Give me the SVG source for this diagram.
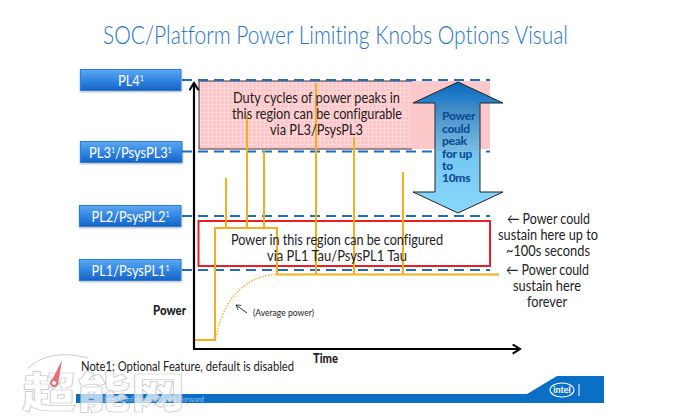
<svg xmlns="http://www.w3.org/2000/svg" width="700" height="420" viewBox="0 0 700 420">
<defs>
<linearGradient id="btn" x1="0" y1="0" x2="0" y2="1"><stop offset="0" stop-color="#5ca8f0"/><stop offset="0.55" stop-color="#2f82e2"/><stop offset="1" stop-color="#1563c4"/></linearGradient>
<linearGradient id="arr" x1="0" y1="0" x2="0" y2="1"><stop offset="0" stop-color="#0a68bb"/><stop offset="0.5" stop-color="#72c4f0"/><stop offset="1" stop-color="#8ad8fb"/></linearGradient>
<pattern id="grid" width="4" height="4" patternUnits="userSpaceOnUse"><rect width="4" height="4" fill="#fdc6c8"/><path d="M0 .5H4M.5 0V4" stroke="#fed6d7" stroke-width="1"/></pattern>
<filter id="sh" x="-5%" y="-10%" width="110%" height="130%"><feDropShadow dx="0" dy="1" stdDeviation="0.8" flood-color="#000" flood-opacity="0.3"/></filter>
<marker id="ah" viewBox="0 0 12 12" refX="10" refY="6" markerWidth="5" markerHeight="5" orient="auto" markerUnits="strokeWidth"><path d="M2 1 L10 6 L2 11" fill="none" stroke="#000" stroke-width="2.2"/></marker>
<marker id="thin" viewBox="0 0 12 12" refX="10" refY="6" markerWidth="7" markerHeight="7" orient="auto" markerUnits="strokeWidth"><path d="M2 1 L10 6 L2 11" fill="none" stroke="#333" stroke-width="1.4"/></marker>
</defs>
<style>
text{font-family:Lato,"Open Sans","Liberation Sans",sans-serif;fill:#222;font-variant-ligatures:none}
.btn{fill:url(#btn);stroke:#2a7fd8;stroke-width:1;filter:url(#sh)}
.bl{fill:#fff;font-size:14.500px}
.dash{stroke:#1b6fc2;stroke-width:2.200;stroke-dasharray:10 6;fill:none}
.or{stroke:#f5ae1e;stroke-width:2;fill:none}
.body{font-size:14.500px}
.side{font-size:14.500px}
.b{font-weight:900;font-size:12.500px}
.arrt{font-size:12px;font-weight:900;fill:#0e4f94;letter-spacing:-.3px}
.wm{font-family:"Noto Sans CJK SC",sans-serif;font-size:42px;font-weight:900;fill:#fff;fill-opacity:.7;stroke:#c4c4c4;stroke-width:.6}
</style>
<rect width="700" height="420" fill="#fff"/>
<text x="103" y="44" font-size="25" font-weight="300" style="fill:#1f74c6" textLength="465" lengthAdjust="spacingAndGlyphs">SOC/Platform Power Limiting Knobs Options Visual</text>

<g id="peak-region"><rect x="199" y="81" width="291" height="68" fill="#fcc9cb"/><rect x="199" y="81" width="213" height="68" fill="url(#grid)"/><path d="M412 81H199V149H412" fill="none" stroke="#333" stroke-width="1"/></g>
<g id="sustain-region"><rect x="198.500" y="221" width="291.500" height="45" fill="none" stroke="#ee1c25" stroke-width="2"/></g>

<g id="connectors">
<path class="dash" d="M182 80H490"/><path class="dash" d="M182 151.500H490"/><path class="dash" d="M182 216H490"/><path class="dash" d="M182 270H490"/>
<path class="or" d="M194 340H215V228H277V274.500H499"/>
<path class="or" d="M226 178V228M247 115V228M264 151V228M316 83V274M354 137V274M403 172V274"/>
<path d="M216 338C222 305 240 277 277 274" fill="none" stroke="#f5ae1e" stroke-width="1.300" stroke-dasharray="1.500 1.500"/>
<path d="M194 349V83" fill="none" stroke="#000" stroke-width="2.200" marker-end="url(#ah)"/>
<path d="M193 349H520" fill="none" stroke="#000" stroke-width="2.200" marker-end="url(#ah)"/>
<path d="M247 313L236 305" fill="none" stroke="#333" stroke-width="1" marker-end="url(#thin)"/>
</g>

<g id="pl4"><rect class="btn" x="80.500" y="69.500" width="100.500" height="21"/><text class="bl" x="118" y="86" textLength="26" lengthAdjust="spacingAndGlyphs">PL4<tspan font-size="8" dy="-5">1</tspan></text></g>
<g id="pl3"><rect class="btn" x="80.500" y="141.500" width="101.500" height="21"/><text class="bl" x="89" y="158" textLength="83" lengthAdjust="spacingAndGlyphs">PL3<tspan font-size="8" dy="-5">1</tspan><tspan dy="5">/PsysPL3</tspan><tspan font-size="8" dy="-5">1</tspan></text></g>
<g id="pl2"><rect class="btn" x="79.500" y="205.500" width="101.500" height="21"/><text class="bl" x="91.500" y="222" textLength="78" lengthAdjust="spacingAndGlyphs">PL2/PsysPL2<tspan font-size="8" dy="-5">1</tspan></text></g>
<g id="pl1"><rect class="btn" x="79.500" y="259.500" width="101.500" height="21"/><text class="bl" x="91.500" y="276" textLength="78" lengthAdjust="spacingAndGlyphs">PL1/PsysPL1<tspan font-size="8" dy="-5">1</tspan></text></g>

<g id="peak-text"><text class="body" x="233" y="103" textLength="167" lengthAdjust="spacingAndGlyphs">Duty cycles of power peaks in</text><text class="body" x="232" y="119" textLength="170" lengthAdjust="spacingAndGlyphs">this region can be configurable</text><text class="body" x="270" y="135" textLength="93" lengthAdjust="spacingAndGlyphs">via PL3/PsysPL3</text></g>
<g id="sustain-text"><text class="body" x="231" y="245" textLength="212" lengthAdjust="spacingAndGlyphs">Power in this region can be configured</text><text class="body" x="267" y="261" textLength="140" lengthAdjust="spacingAndGlyphs">via PL1 Tau/PsysPL1 Tau</text></g>

<g id="peak-arrow"><path d="M458 82L503 103H480V192H503L458 213L413 192H435V103H413Z" fill="url(#arr)" stroke="#222" stroke-width="1"/><path d="M435 103H480V151H435Z" fill="#8a7f90" fill-opacity=".15"/>
<text class="arrt" x="442" y="120">Power</text><text class="arrt" x="442" y="133">could</text><text class="arrt" x="442" y="145">peak</text><text class="arrt" x="442" y="158">for up</text><text class="arrt" x="442" y="170">to</text><text class="arrt" x="442" y="182">10ms</text></g>

<g id="notes"><text class="side" x="507" y="224" textLength="83" lengthAdjust="spacingAndGlyphs">← Power could</text><text class="side" x="498" y="240" textLength="100" lengthAdjust="spacingAndGlyphs">sustain here up to</text><text class="side" x="506" y="256" textLength="84" lengthAdjust="spacingAndGlyphs">~100s seconds</text><text class="side" x="506" y="275" textLength="83" lengthAdjust="spacingAndGlyphs">← Power could</text><text class="side" x="513" y="291" textLength="68" lengthAdjust="spacingAndGlyphs">sustain here</text><text class="side" x="527" y="307" textLength="40" lengthAdjust="spacingAndGlyphs">forever</text></g>

<text x="153" y="315" class="b" textLength="33" lengthAdjust="spacingAndGlyphs">Power</text>
<text x="313" y="363" class="b" textLength="25" lengthAdjust="spacingAndGlyphs">Time</text>
<text x="253" y="316" font-size="9" textLength="61" lengthAdjust="spacingAndGlyphs">(Average power)</text>

<g id="footer"><path d="M76 394H527L557 376H604V403H76Z" fill="#0b6fc6"/><text x="103" y="402" font-size="7" style="fill:#8fc2ee" textLength="101" lengthAdjust="spacingAndGlyphs">Intel Confidential - Look Forward</text>
<ellipse cx="562" cy="390" rx="12" ry="7" fill="none" stroke="#fff" stroke-width="1.100"/><text x="562" y="393" font-size="9" font-weight="700" text-anchor="middle" style="fill:#fff">intel</text><path d="M579 384V396" stroke="#fff" stroke-width="1"/></g>

<g id="watermark"><path d="M28 368Q50 348 88 358" fill="none" stroke="#ccc" stroke-width="1"/><text class="wm" x="22" y="408" textLength="163" lengthAdjust="spacingAndGlyphs">超能网</text><path d="M51 382L62 360L58 385Z" fill="#e8707a"/><circle cx="54" cy="383" r="3" fill="#fff" stroke="#e8707a" stroke-width="2"/></g>
<text x="81" y="371" font-size="13.500" textLength="213" lengthAdjust="spacingAndGlyphs">Note1: Optional Feature, default is disabled</text>
</svg>
